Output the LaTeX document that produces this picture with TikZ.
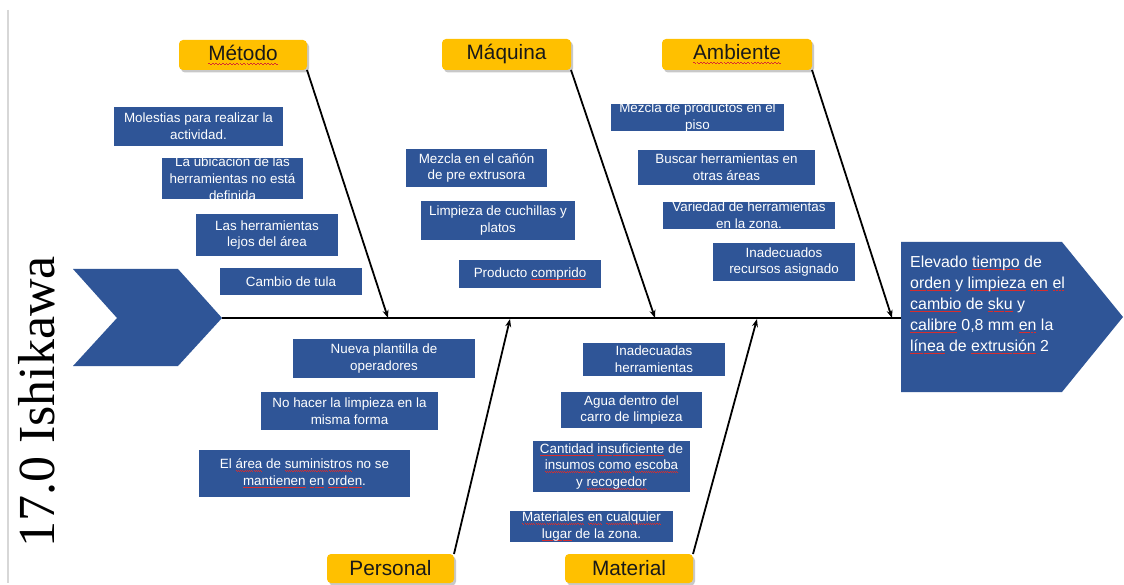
\documentclass[tikz,border=0pt]{standalone}
\usepackage{fontspec}
\setmainfont{Liberation Sans}
\newfontfamily\titlefont{Liberation Serif}
\usetikzlibrary{arrows.meta,shadows}

\definecolor{causeblue}{RGB}{47,85,151}
\definecolor{catyellow}{RGB}{255,192,0}
\definecolor{sqred}{RGB}{215,45,45}
\definecolor{edgegray}{RGB}{215,215,215}

% red wavy spell-check mark under a word
\newsavebox\sqbox
\newcommand\sq[1]{\sbox\sqbox{#1}\rlap{\textcolor{sqred}{\xleaders\hbox{\rule[-0.16em]{0.08em}{0.055em}\rule[-0.2em]{0.08em}{0.055em}}\hskip\wd\sqbox}}\usebox\sqbox}

\tikzset{
  causebox/.style={fill=causeblue, draw=none, inner sep=0pt, outer sep=0pt},
  causetext/.style={text=white, align=center, inner sep=0pt, font=\fontsize{13.4}{16.7}\selectfont},
  catbox/.style={fill=catyellow, rounded corners=4pt, inner sep=0pt, outer sep=0pt,
    text=black!90, font=\fontsize{20.8}{24}\selectfont,
    drop shadow={shadow xshift=2pt, shadow yshift=-2.5pt, opacity=0.3, fill=black!70}},
  bone/.style={line width=1.8pt, -{Stealth[length=8pt,width=6pt]}},
  spine/.style={line width=1.8pt},
}

% blue cause box: name, x1, y1, x2, y2, text
\newcommand\causenode[6]{%
  \node[causebox, minimum width={(#4-#2)*1pt}, minimum height={(#5-#3)*1pt}]
    (#1) at ({(#2+#4)/2},{(#3+#5)/2}) {};
  \node[causetext] (#1-t) at (#1) {#6};
}
% yellow category box: name, x1, y1, x2, y2, text
\newcommand\catnode[6]{%
  \node[catbox, minimum width={(#4-#2)*1pt}, minimum height={(#5-#3)*1pt}]
    (#1) at ({(#2+#4)/2},{(#3+#5)/2}) {#6};
}

\begin{document}
\begin{tikzpicture}[x=1pt,y=-1pt]
\useasboundingbox (0,0) rectangle (1124,585);
\fill[white] (0,0) rectangle (1124,585);

% page edge
\draw[edgegray, line width=1.5pt] (8,10) -- (8,583);

% title
\node[rotate=90, inner sep=0pt, font=\titlefont\fontsize{52}{52}\selectfont] (title) at (37,402) {17.0 Ishikawa};

% tail chevron and effect head
\fill[causeblue] (73,269) -- (178,269) -- (222,318) -- (178,366) -- (73,366) -- (117,318) -- cycle;
\coordinate (tail) at (222,318);
\fill[causeblue] (901,242) -- (1062,242) -- (1123,317) -- (1062,392) -- (901,392) -- cycle;
\coordinate (head) at (901,318);
\node[anchor=west, align=left, inner sep=0pt, text=white, font=\fontsize{15.9}{21}\selectfont] (effect)
  at (910,305) {Elevado \sq{tiempo} de\\\sq{orden} y \sq{limpieza} \sq{en} \sq{el}\\\sq{cambio} de \sq{sku} y\\\sq{calibre} 0,8 mm \sq{en} la\\\sq{línea} de \sq{extrusión} 2};

% spine
\draw[spine] (tail) -- (head);

% categories
\catnode{metodo}{179}{40}{307}{70}{\sq{Método}}
\catnode{maquina}{442}{39}{571}{70}{Máquina}
\catnode{ambiente}{662}{39}{812}{70}{\sq{Ambiente}}
\catnode{personal}{327}{554}{454}{583}{Personal}
\catnode{material}{565}{554}{693}{583}{Material}

% bone ends on the spine
\coordinate (metodo-end) at (388,318);
\coordinate (maquina-end) at (655,318);
\coordinate (ambiente-end) at (892,318);
\coordinate (personal-end) at (510,319);
\coordinate (material-end) at (757,319);

\draw[bone] (metodo.south east) -- (metodo-end);
\draw[bone] (maquina.south east) -- (maquina-end);
\draw[bone] (ambiente.south east) -- (ambiente-end);
\draw[bone] (personal.north east) -- (personal-end);
\draw[bone] (material.north east) -- (material-end);

% causes: method
\causenode{me1}{114}{107}{283}{146}{Molestias para realizar la\\actividad.}
\causenode{me2}{162}{158}{303}{199}{La ubicación de las\\herramientas no está\\definida}
\causenode{me3}{196}{214}{338}{256}{Las herramientas\\lejos del área}
\causenode{me4}{220}{268}{362}{295}{Cambio de tula}

% causes: machine
\causenode{ma1}{406}{149}{547}{187}{Mezcla en el cañón\\de pre extrusora}
\causenode{ma2}{421}{201}{575}{240}{Limpieza de cuchillas y\\platos}
\causenode{ma3}{459}{260}{601}{288}{Producto \sq{comprido}}

% causes: environment
\causenode{am1}{611}{104}{784}{131}{Mezcla de productos en el\\piso}
\causenode{am2}{638}{150}{815}{185}{Buscar herramientas en\\otras áreas}
\causenode{am3}{663}{202}{835}{229}{Variedad de herramientas\\en la zona.}
\causenode{am4}{713}{243}{855}{281}{Inadecuados\\recursos asignado}

% causes: people
\causenode{pe1}{293}{339}{475}{378}{Nueva plantilla de\\operadores}
\causenode{pe2}{261}{392}{438}{430}{No hacer la limpieza en la\\misma forma}
\causenode{pe3}{199}{450}{410}{497}{El \sq{área} de \sq{suministros} no se\\\sq{mantienen} \sq{en} \sq{orden}.}

% causes: material
\causenode{mt1}{583}{343}{725}{376}{Inadecuadas\\herramientas}
\causenode{mt2}{561}{392}{702}{428}{Agua dentro del\\carro de limpieza}
\causenode{mt3}{533}{441}{690}{492}{\sq{Cantidad} \sq{insuficiente} de\\\sq{insumos} \sq{como} \sq{escoba}\\y \sq{recogedor}}
\causenode{mt4}{510}{511}{673}{542}{\sq{Materiales} \sq{en} \sq{cualquier}\\\sq{lugar} de la zona.}
\end{tikzpicture}
\end{document}
